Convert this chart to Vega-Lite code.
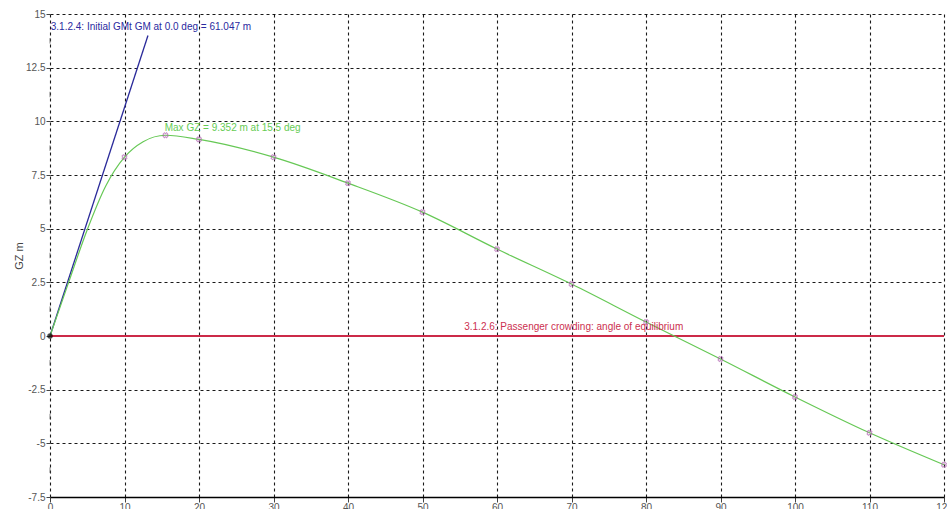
{
  "$schema": "https://vega.github.io/schema/vega-lite/v6.json",
  "width": 894,
  "height": 483,
  "autosize": "none",
  "padding": {"left": 50, "top": 14, "right": 3, "bottom": 12},
  "background": "white",
  "config": {
    "view": {"stroke": null},
    "font": "Liberation Sans",
    "axis": {
      "labelFont": "Liberation Sans",
      "labelFontSize": 10,
      "labelColor": "#555",
      "titleFont": "Liberation Sans",
      "titleColor": "#444",
      "titleFontWeight": "normal",
      "gridColor": "#000",
      "gridDash": [3, 3],
      "gridOpacity": 0.9,
      "gridWidth": 1.1,
      "tickColor": "#444",
      "domainColor": "#000"
    }
  },
  "datasets": {
    "gz": [
      {"heel": 0, "gz": 0},
      {"heel": 2.5, "gz": 2.5},
      {"heel": 5, "gz": 4.95},
      {"heel": 7.5, "gz": 7.0},
      {"heel": 10, "gz": 8.33},
      {"heel": 12.5, "gz": 9.05},
      {"heel": 15.5, "gz": 9.352},
      {"heel": 20, "gz": 9.16},
      {"heel": 30, "gz": 8.33},
      {"heel": 40, "gz": 7.12},
      {"heel": 50, "gz": 5.77},
      {"heel": 60, "gz": 4.05},
      {"heel": 70, "gz": 2.42},
      {"heel": 80, "gz": 0.65},
      {"heel": 90, "gz": -1.07},
      {"heel": 100, "gz": -2.84},
      {"heel": 110, "gz": -4.51},
      {"heel": 120, "gz": -6.0}
    ],
    "marks": [
      {"heel": 10, "gz": 8.33},
      {"heel": 15.5, "gz": 9.352},
      {"heel": 20, "gz": 9.16},
      {"heel": 30, "gz": 8.33},
      {"heel": 40, "gz": 7.12},
      {"heel": 50, "gz": 5.77},
      {"heel": 60, "gz": 4.05},
      {"heel": 70, "gz": 2.42},
      {"heel": 80, "gz": 0.65},
      {"heel": 90, "gz": -1.07},
      {"heel": 100, "gz": -2.84},
      {"heel": 110, "gz": -4.51},
      {"heel": 120, "gz": -6.0}
    ],
    "gm": [
      {"heel": 0, "gz": 0},
      {"heel": 13.15, "gz": 14.0}
    ],
    "crowd": [
      {"heel": 0, "gz": 0},
      {"heel": 120, "gz": 0}
    ],
    "minor": [
      {"gz": -6.25}, {"gz": -3.75}, {"gz": -1.25}, {"gz": 1.25},
      {"gz": 3.75}, {"gz": 6.25}, {"gz": 8.75}, {"gz": 11.25}, {"gz": 13.75}
    ],
    "labels": [
      {"heel": 0.1, "gz": 14.39, "text": "3.1.2.4: Initial GMt GM at 0.0 deg = 61.047 m", "series": "gm"},
      {"heel": 15.4, "gz": 9.68, "text": "Max GZ = 9.352 m at 15.5 deg", "series": "max"}
    ]
  },
  "layer": [
    {
      "data": {"name": "crowd"},
      "mark": {"type": "line", "color": "#cc2a48", "strokeWidth": 2},
      "encoding": {
        "x": {
          "field": "heel", "type": "quantitative",
          "scale": {"domain": [0, 120], "nice": false, "zero": false},
          "axis": {
            "values": [0, 10, 20, 30, 40, 50, 60, 70, 80, 90, 100, 110, 120],
            "title": null,
            "labelPadding": 0,
            "tickSize": 5,
            "domainWidth": 1.5,
            "labelFlush": false
          }
        },
        "y": {
          "field": "gz", "type": "quantitative",
          "scale": {"domain": [-7.5, 15], "nice": false, "zero": false},
          "axis": {
            "values": [-7.5, -5, -2.5, 0, 2.5, 5, 7.5, 10, 12.5, 15],
            "labelExpr": "'' + datum.value",
            "title": "GZ  m",
            "titleFontSize": 11,
            "titlePadding": 1,
            "domain": false,
            "tickSize": 4,
            "labelPadding": 1
          }
        }
      }
    },
    {
      "data": {"name": "minor"},
      "mark": {"type": "point", "shape": "M0,-1L0,1", "size": 30, "color": "#555", "strokeWidth": 1, "filled": false},
      "encoding": {
        "x": {"datum": 0, "type": "quantitative"},
        "y": {"field": "gz", "type": "quantitative"}
      }
    },
    {
      "data": {"name": "gm"},
      "mark": {"type": "line", "color": "#2a2a9a", "strokeWidth": 1.3},
      "encoding": {
        "x": {"field": "heel", "type": "quantitative"},
        "y": {"field": "gz", "type": "quantitative"}
      }
    },
    {
      "data": {"name": "gz"},
      "mark": {"type": "line", "color": "#66c855", "strokeWidth": 1.2, "interpolate": "monotone"},
      "encoding": {
        "x": {"field": "heel", "type": "quantitative"},
        "y": {"field": "gz", "type": "quantitative"}
      }
    },
    {
      "data": {"name": "marks"},
      "mark": {"type": "point", "shape": "cross", "angle": 45, "size": 25, "color": "#b060b0", "strokeWidth": 1, "filled": false},
      "encoding": {
        "x": {"field": "heel", "type": "quantitative"},
        "y": {"field": "gz", "type": "quantitative"}
      }
    },
    {
      "data": {"values": [{"heel": 0, "gz": 0}]},
      "mark": {"type": "point", "filled": true, "color": "#000", "size": 30},
      "encoding": {
        "x": {"field": "heel", "type": "quantitative"},
        "y": {"field": "gz", "type": "quantitative"}
      }
    },
    {
      "data": {"name": "labels"},
      "mark": {"type": "text", "align": "left", "baseline": "middle", "fontSize": 10, "font": "Liberation Sans"},
      "encoding": {
        "x": {"field": "heel", "type": "quantitative"},
        "y": {"field": "gz", "type": "quantitative"},
        "text": {"field": "text"},
        "color": {
          "field": "series", "type": "nominal",
          "scale": {"domain": ["gm", "max"], "range": ["#2a2aa0", "#66cc55"]},
          "legend": null
        }
      }
    },
    {
      "data": {"values": [{"heel": 70.3, "gz": 0.42, "text": "3.1.2.6: Passenger crowding: angle of equilibrium"}]},
      "mark": {"type": "text", "align": "center", "baseline": "middle", "fontSize": 10, "font": "Liberation Sans", "color": "#cc3050"},
      "encoding": {
        "x": {"field": "heel", "type": "quantitative"},
        "y": {"field": "gz", "type": "quantitative"},
        "text": {"field": "text"}
      }
    }
  ]
}
